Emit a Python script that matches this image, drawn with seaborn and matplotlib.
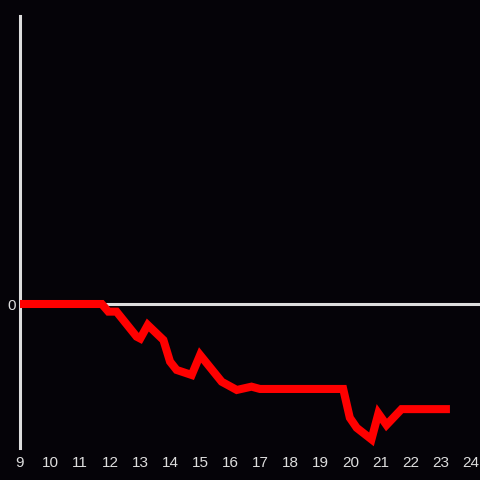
import numpy as np
import pandas as pd
import matplotlib
matplotlib.use("Agg")
import matplotlib.pyplot as plt
import seaborn as sns

# Data (hour of day vs. change)
hours = [9.0, 11.72, 11.94, 12.21, 12.88, 13.0, 13.25, 13.77, 13.99, 14.21,
         14.71, 14.99, 15.71, 16.21, 16.7, 16.98, 19.75, 19.97, 20.2, 20.69,
         20.92, 21.19, 21.69, 23.3]
change = [0.0, 0.0, -0.053, -0.053, -0.227, -0.24, -0.146, -0.25, -0.40, -0.458,
          -0.493, -0.354, -0.54, -0.597, -0.574, -0.59, -0.59, -0.79, -0.86, -0.94,
          -0.76, -0.84, -0.73, -0.73]
x_ticks = list(range(9, 25))

BG = "#050308"
FG = "#dddddd"

sns.set_theme(style="dark")
plt.rcParams["font.family"] = ["Liberation Sans", "DejaVu Sans"]

df = pd.DataFrame({"hour": hours, "change": change})

fig = plt.figure(figsize=(4.8, 4.8), dpi=100, facecolor=BG)
ax = fig.add_axes([20 / 480, 32 / 480, 460 / 480, 432 / 480])
ax.set_facecolor(BG)

ax.axhline(0, color=FG, lw=2.2, zorder=1)
sns.lineplot(data=df, x="hour", y="change", ax=ax, color="#ff0000",
             lw=5.8, zorder=3, solid_capstyle="butt", solid_joinstyle="miter")

ax.set_xlim(9, 24.3)
ax.set_ylim(-1, 2)
ax.set_xticks(x_ticks)
ax.set_xticklabels([str(t) for t in x_ticks])
ax.set_yticks([0])
ax.set_yticklabels(["0"])
ax.tick_params(axis="both", length=0, colors=FG, labelsize=11)
ax.tick_params(axis="x", pad=6)
ax.tick_params(axis="y", pad=3)
ax.set_xlabel("")
ax.set_ylabel("")
ax.grid(False)

for side in ["top", "right", "bottom"]:
    ax.spines[side].set_visible(False)
ax.spines["left"].set_visible(True)
ax.spines["left"].set_color(FG)
ax.spines["left"].set_linewidth(2.2)

fig.savefig("out.png", dpi=100, facecolor=BG)
